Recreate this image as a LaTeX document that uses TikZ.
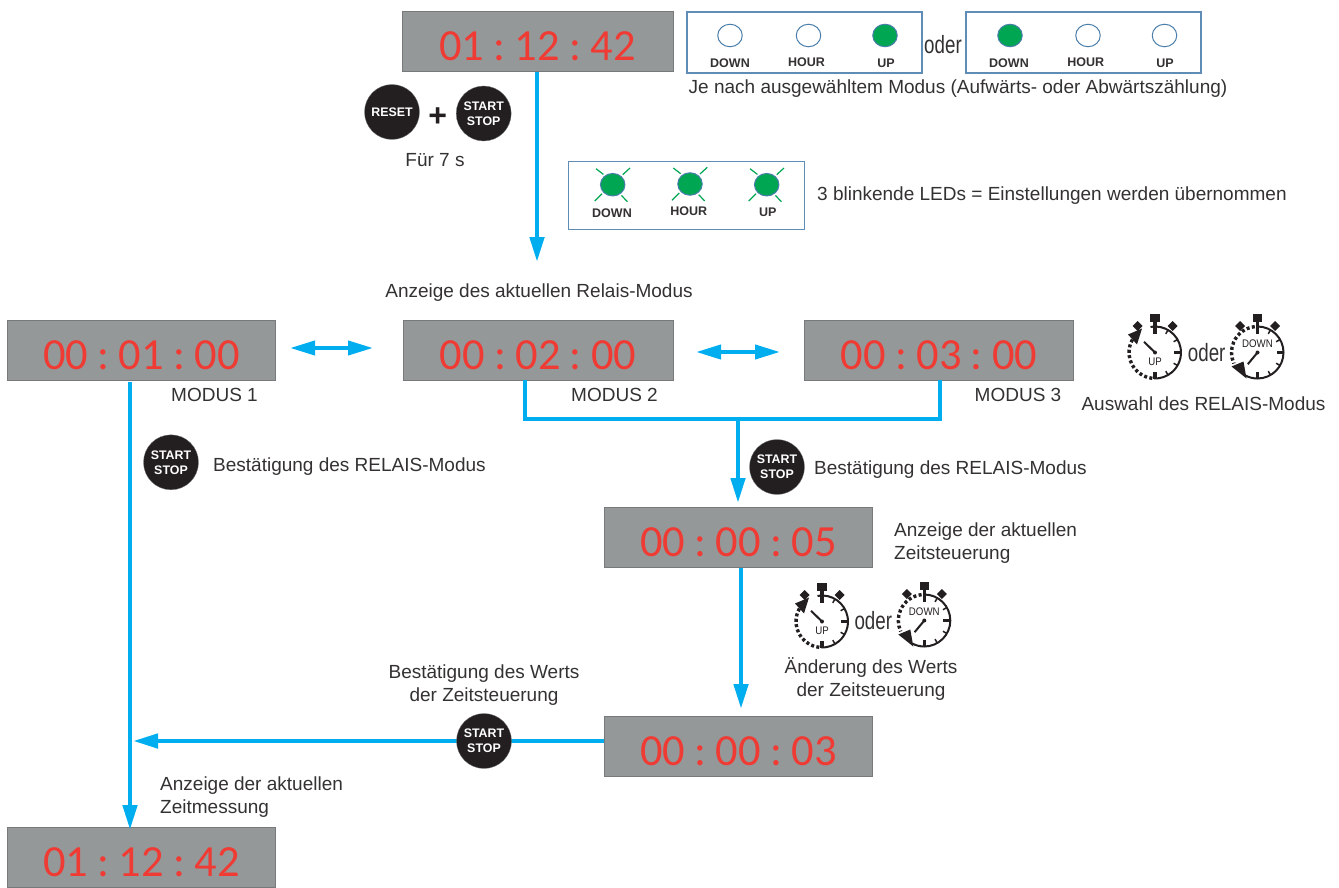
\documentclass[tikz,border=0pt]{standalone}
\usepackage{fontspec}
\setmainfont{Liberation Sans}
\newfontfamily\dispfont{Carlito}
\usetikzlibrary{arrows.meta,calc,shapes.geometric}
\definecolor{dgray}{HTML}{959899}
\definecolor{dedge}{HTML}{77797B}
\definecolor{dred}{HTML}{EF3B33}
\definecolor{flow}{HTML}{00AEEF}
\definecolor{ledg}{HTML}{00A651}
\definecolor{ledb}{HTML}{4A7EAB}
\definecolor{boxb}{HTML}{5F8DB5}
\definecolor{btn}{HTML}{231F20}
\definecolor{txt}{HTML}{333132}
\newcommand{\hms}[3]{#1\hspace{9.3pt}:\hspace{9.3pt}#2\hspace{9.3pt}:\hspace{9.3pt}#3}
\tikzset{
  x=1pt,y=-1pt,
  display/.style={draw=dedge,line width=1pt,fill=dgray,minimum width=268.5,minimum height=60,inner sep=0pt,text=dred,font=\dispfont\fontsize{44.5}{45}\selectfont,text depth=0pt,text height=38pt},
  flowline/.style={draw=flow,line width=4.6pt},
  flowarrow/.style={flowline,-{Triangle[length=25pt,width=14pt]}},
  flowdouble/.style={draw=flow,line width=4pt,{Triangle[length=25pt,width=14pt]}-{Triangle[length=25pt,width=14pt]}},
  pushbtn/.style={circle,fill=btn,draw=dedge,line width=.3pt,minimum size=55,inner sep=0pt,text=white,align=center,font=\bfseries\fontsize{12.4}{15}\selectfont},
  label/.style={text=txt,font=\fontsize{19}{23}\selectfont,inner sep=0pt,align=left},
  ledbox/.style={draw=boxb,line width=1.3pt,fill=white,inner sep=0pt},
  ledoff/.style={ellipse,draw=ledb,line width=1pt,fill=white,minimum width=24.5,minimum height=22.5,inner sep=0pt},
  ledon/.style={ledoff,fill=ledg},
  ledname/.style={text=txt,inner sep=0pt,font=\bfseries\fontsize{12.5}{14}\selectfont},
  ray/.style={draw=ledg,line width=1.2pt},
  oder/.style={text=txt,inner sep=0pt,font=\fontsize{25}{28}\selectfont,xscale=.75},
  watchline/.style={btn,line width=2pt},
  watchdots/.style={btn,line width=3.4pt,dash pattern=on 3pt off 2.4pt},
  watchtext/.style={text=btn,inner sep=0pt,font=\fontsize{11}{12}\selectfont,xscale=.88},
  pics/watchbody/.style={code={
    \fill[btn] (-4.8,31) rectangle (4.8,38.5);
    \fill[btn] (-1.7,26) rectangle (1.7,31);
    \fill[btn] (-1.7,26) rectangle (1.7,19);
    \fill[btn] (-1.7,-26.5) rectangle (1.7,-19);
    \fill[btn] (26,-1.7) rectangle (19,1.7);
    \fill[btn] (17.5,31.5) -- (22.5,26.5) -- (17.5,21.5) -- (12.5,26.5) -- cycle;
    \fill[btn] (-17.5,31.5) -- (-12.5,26.5) -- (-17.5,21.5) -- (-22.5,26.5) -- cycle;
    \foreach \a in {60,30,-30,-60}{\draw[btn,line width=1.5pt] (\a:26) -- (\a:21.5);}
    \fill[btn] (0,0) circle (2);
  }},
}
\newcommand{\upwatch}[3]{%
  \begin{scope}[shift={(#1,#2)},y=1pt]
    \pic {watchbody};
    \draw[watchline] (100:26) arc[start angle=100,end angle=-92,radius=26];
    \draw[watchdots] (-96:26) arc[start angle=-96,end angle=-218,radius=26];
    \fill[btn] (-13,24) -- (-27,18) -- (-18,8) -- cycle;
    \draw[btn,line width=2pt] (0,0) -- (-11,10.7);
    \node[watchtext] (#3) at (0,-9.3) {UP};
  \end{scope}}
\newcommand{\downwatch}[3]{%
  \begin{scope}[shift={(#1,#2)},y=1pt]
    \pic {watchbody};
    \draw[watchline] (90:26) arc[start angle=90,end angle=-118,radius=26];
    \draw[watchdots] (96:26) arc[start angle=96,end angle=205,radius=26];
    \fill[btn] (-11,-26) -- (-26,-14) -- (-14,-9) -- cycle;
    \draw[btn,line width=2pt] (0,0) -- (-9.7,-11.7);
    \node[watchtext] (#3) at (0,9) {DOWN};
  \end{scope}}
\newcommand{\rays}[2]{%
  \begin{scope}[shift={(#1,#2)}]
    \draw[ray] (-16.7,-16) -- (-9.3,-10.3);
    \draw[ray] (17.3,-16.7) -- (10,-10);
    \draw[ray] (-18,16.3) -- (-10.7,9);
    \draw[ray] (14.7,17) -- (8.7,10.7);
  \end{scope}}
\begin{document}
\begin{tikzpicture}
\useasboundingbox (0,0) rectangle (1339,888);
\clip (0,0) rectangle (1339,888);
% displays
\node[display,minimum width=271] (top) at (537.5,42) {\hms{01}{12}{42}};
\node[display] (m1) at (141.5,350) {\hms{00}{01}{00}};
\node[display,minimum width=270] (m2) at (538,350) {\hms{00}{02}{00}};
\node[display] (m3) at (939,350) {\hms{00}{03}{00}};
\node[display] (cur) at (738.5,537.5) {\hms{00}{00}{05}};
\node[display] (new) at (738.5,746) {\hms{00}{00}{03}};
\node[display] (end) at (141.5,857.5) {\hms{01}{12}{42}};
% connectors
\coordinate (topout) at (537,72);
\coordinate (modein) at (537,262);
\draw[flowarrow] (topout) -- (modein);
\coordinate (a1) at (290,348); \coordinate (a2) at (373,348);
\draw[flowdouble] (a1) -- (a2);
\coordinate (b1) at (696,352); \coordinate (b2) at (780,352);
\draw[flowdouble] (b1) -- (b2);
\coordinate (m1out) at (130,382); \coordinate (endin) at (130,830);
\draw[flowarrow] (m1out) -- (endin);
\coordinate (m2out) at (525,380); \coordinate (m3out) at (940,380);
\coordinate (j) at (738,419);
\draw[flowline,line join=miter] (m2out) -- (525,419) -- (940,419) -- (m3out);
\coordinate (curin) at (738,503);
\draw[flowarrow] (j) -- (curin);
\coordinate (curout) at (741,568); \coordinate (newin) at (741,709);
\draw[flowarrow] (curout) -- (newin);
\coordinate (newout) at (604,741); \coordinate (jn) at (133,741);
\draw[flowarrow] (newout) -- (jn);
% buttons
\node[pushbtn] (reset) at (392,112) {RESET};
\node[pushbtn] (ss0) at (483.7,113.5) {START\\STOP};
\node[text=btn,inner sep=0pt,font=\bfseries\fontsize{32}{32}\selectfont] (plus) at (437.7,117.3) {+};
\node[pushbtn] (ss1) at (171,462.3) {START\\STOP};
\node[pushbtn] (ss2) at (777,467) {START\\STOP};
\node[pushbtn] (ss3) at (484,741) {START\\STOP};
% LED box 1
\node[ledbox,minimum width=235,minimum height=61] (box1) at (804.5,42.5) {};
\node[ledoff] (l1) at (730,35.5) {}; \node[ledoff] (l2) at (808.5,35.5) {}; \node[ledon] (l3) at (885,35.5) {};
\node[ledname] (n1) at (730,63.5) {DOWN}; \node[ledname] (n2) at (806.4,62.5) {HOUR}; \node[ledname] (n3) at (886,63.5) {UP};
\node[oder] (o1) at (943,45) {oder};
\node[ledbox,minimum width=235,minimum height=61] (box2) at (1083.5,42.5) {};
\node[ledon] (l4) at (1010,35.5) {}; \node[ledoff] (l5) at (1088,35.5) {}; \node[ledoff] (l6) at (1164.5,35.5) {};
\node[ledname] (n4) at (1009,63.5) {DOWN}; \node[ledname] (n5) at (1085.7,62.5) {HOUR}; \node[ledname] (n6) at (1165,63.5) {UP};
% LED box 2
\node[ledbox,minimum width=235.5,minimum height=67.5] (box3) at (686.5,195.5) {};
\node[ledon] (l7) at (612.7,184.7) {}; \node[ledon] (l8) at (690,184) {}; \node[ledon] (l9) at (766.7,184.7) {};
\rays{612.7}{184.7}\rays{690}{184}\rays{766.7}{184.7}
\node[ledname] (n7) at (612,212.7) {DOWN}; \node[ledname] (n8) at (688.7,210.7) {HOUR}; \node[ledname] (n9) at (767.7,212.7) {UP};
% texts
\node[label] (t1) at (958,88.5) {Je nach ausgewähltem Modus (Aufwärts- oder Abwärtszählung)};
\node[label] (t2) at (435,160) {Für 7 s};
\node[label,anchor=west] (t3) at (817,196) {3 blinkende LEDs = Einstellungen werden übernommen};
\node[label] (t4) at (539,293) {Anzeige des aktuellen Relais-Modus};
\node[label] (t5) at (214.5,395) {MODUS 1};
\node[label] (t6) at (614.5,395) {MODUS 2};
\node[label] (t7) at (1018,395) {MODUS 3};
\node[label] (t8) at (1203.5,404) {Auswahl des RELAIS-Modus};
\node[label,anchor=west] (t9) at (213,467) {Bestätigung des RELAIS-Modus};
\node[label,anchor=west] (t10) at (814,470) {Bestätigung des RELAIS-Modus};
\node[label,anchor=west] (t11) at (894,543.5) {Anzeige der aktuellen\\Zeitsteuerung};
\node[label,align=center] (t12) at (871,679.5) {Änderung des Werts\\der Zeitsteuerung};
\node[label,align=center] (t13) at (484,685) {Bestätigung des Werts\\der Zeitsteuerung};
\node[label,anchor=west] (t14) at (160,797.5) {Anzeige der aktuellen\\Zeitmessung};
% watches
\upwatch{1155}{352.5}{w1}
\node[oder] (o2) at (1206.7,352.7) {oder};
\downwatch{1257.5}{352.5}{w2}
\upwatch{822}{621.5}{w3}
\node[oder] (o3) at (873.3,621) {oder};
\downwatch{924.3}{620.5}{w4}
\end{tikzpicture}
\end{document}
